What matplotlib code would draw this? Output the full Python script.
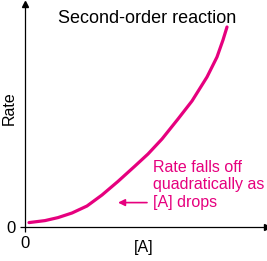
import matplotlib
matplotlib.use("Agg")
import matplotlib.pyplot as plt

plt.rcParams['font.family'] = ['Liberation Sans', 'DejaVu Sans']

# Data (arbitrary units)
conc = [0.2, 1.0, 1.65, 2.35, 3.1, 3.85, 4.65, 5.5, 6.15, 6.85, 7.65, 8.35, 9.1, 9.6, 9.9, 10.1]
rate = [0.22, 0.32, 0.47, 0.7, 1.05, 1.6, 2.28, 3.05, 3.65, 4.4, 5.4, 6.3, 7.5, 8.5, 9.35, 10.0]
x_ticks = [0]
y_ticks = [0]
title_text = "Second-order reaction"
note_text = "Rate falls off\nquadratically as\n[A] drops"

MAGENTA = '#E6007E'

fig = plt.figure(figsize=(2.67, 2.61), dpi=100)
ax = fig.add_axes([25/267, 34/261, 242/267, 223/261])
ax.set_xlim(0, 12.1)
ax.set_ylim(0, 11.15)

ax.plot(conc, rate, color=MAGENTA, lw=2.3, solid_capstyle='round',
        solid_joinstyle='round', clip_on=False)

for s in ['top', 'right']:
    ax.spines[s].set_visible(False)
for s in ['left', 'bottom']:
    ax.spines[s].set_linewidth(0.9)
    ax.spines[s].set_color('black')

# arrow heads on axes
ax.plot(1, 0, '>', color='black', ms=5, transform=ax.transAxes, clip_on=False)
ax.plot(0, 1, '^', color='black', ms=5, transform=ax.transAxes, clip_on=False)

ax.set_xticks(x_ticks)
ax.set_yticks(y_ticks)
ax.tick_params(length=3.6, width=0.9, labelsize=12, pad=3)

ax.text(0.49, -0.09, "[A]", transform=ax.transAxes, ha='center', va='center',
        fontsize=11.5)
ax.text(-0.066, 0.534, "Rate", transform=ax.transAxes, ha='center', va='center',
        rotation=90, fontsize=11.5)

ax.text(0.504, 0.937, title_text, transform=ax.transAxes, ha='center', va='center',
        fontsize=13, color='black')

ax.text(6.4, 2.12, note_text, ha='left', va='center', fontsize=11.5,
        color=MAGENTA, linespacing=1.2)
ax.annotate("", xy=(4.65, 1.22), xytext=(6.1, 1.22),
            arrowprops=dict(arrowstyle='-|>', color=MAGENTA, lw=1.2,
                            mutation_scale=10, shrinkA=0, shrinkB=0))

fig.savefig("out.png", dpi=100)
